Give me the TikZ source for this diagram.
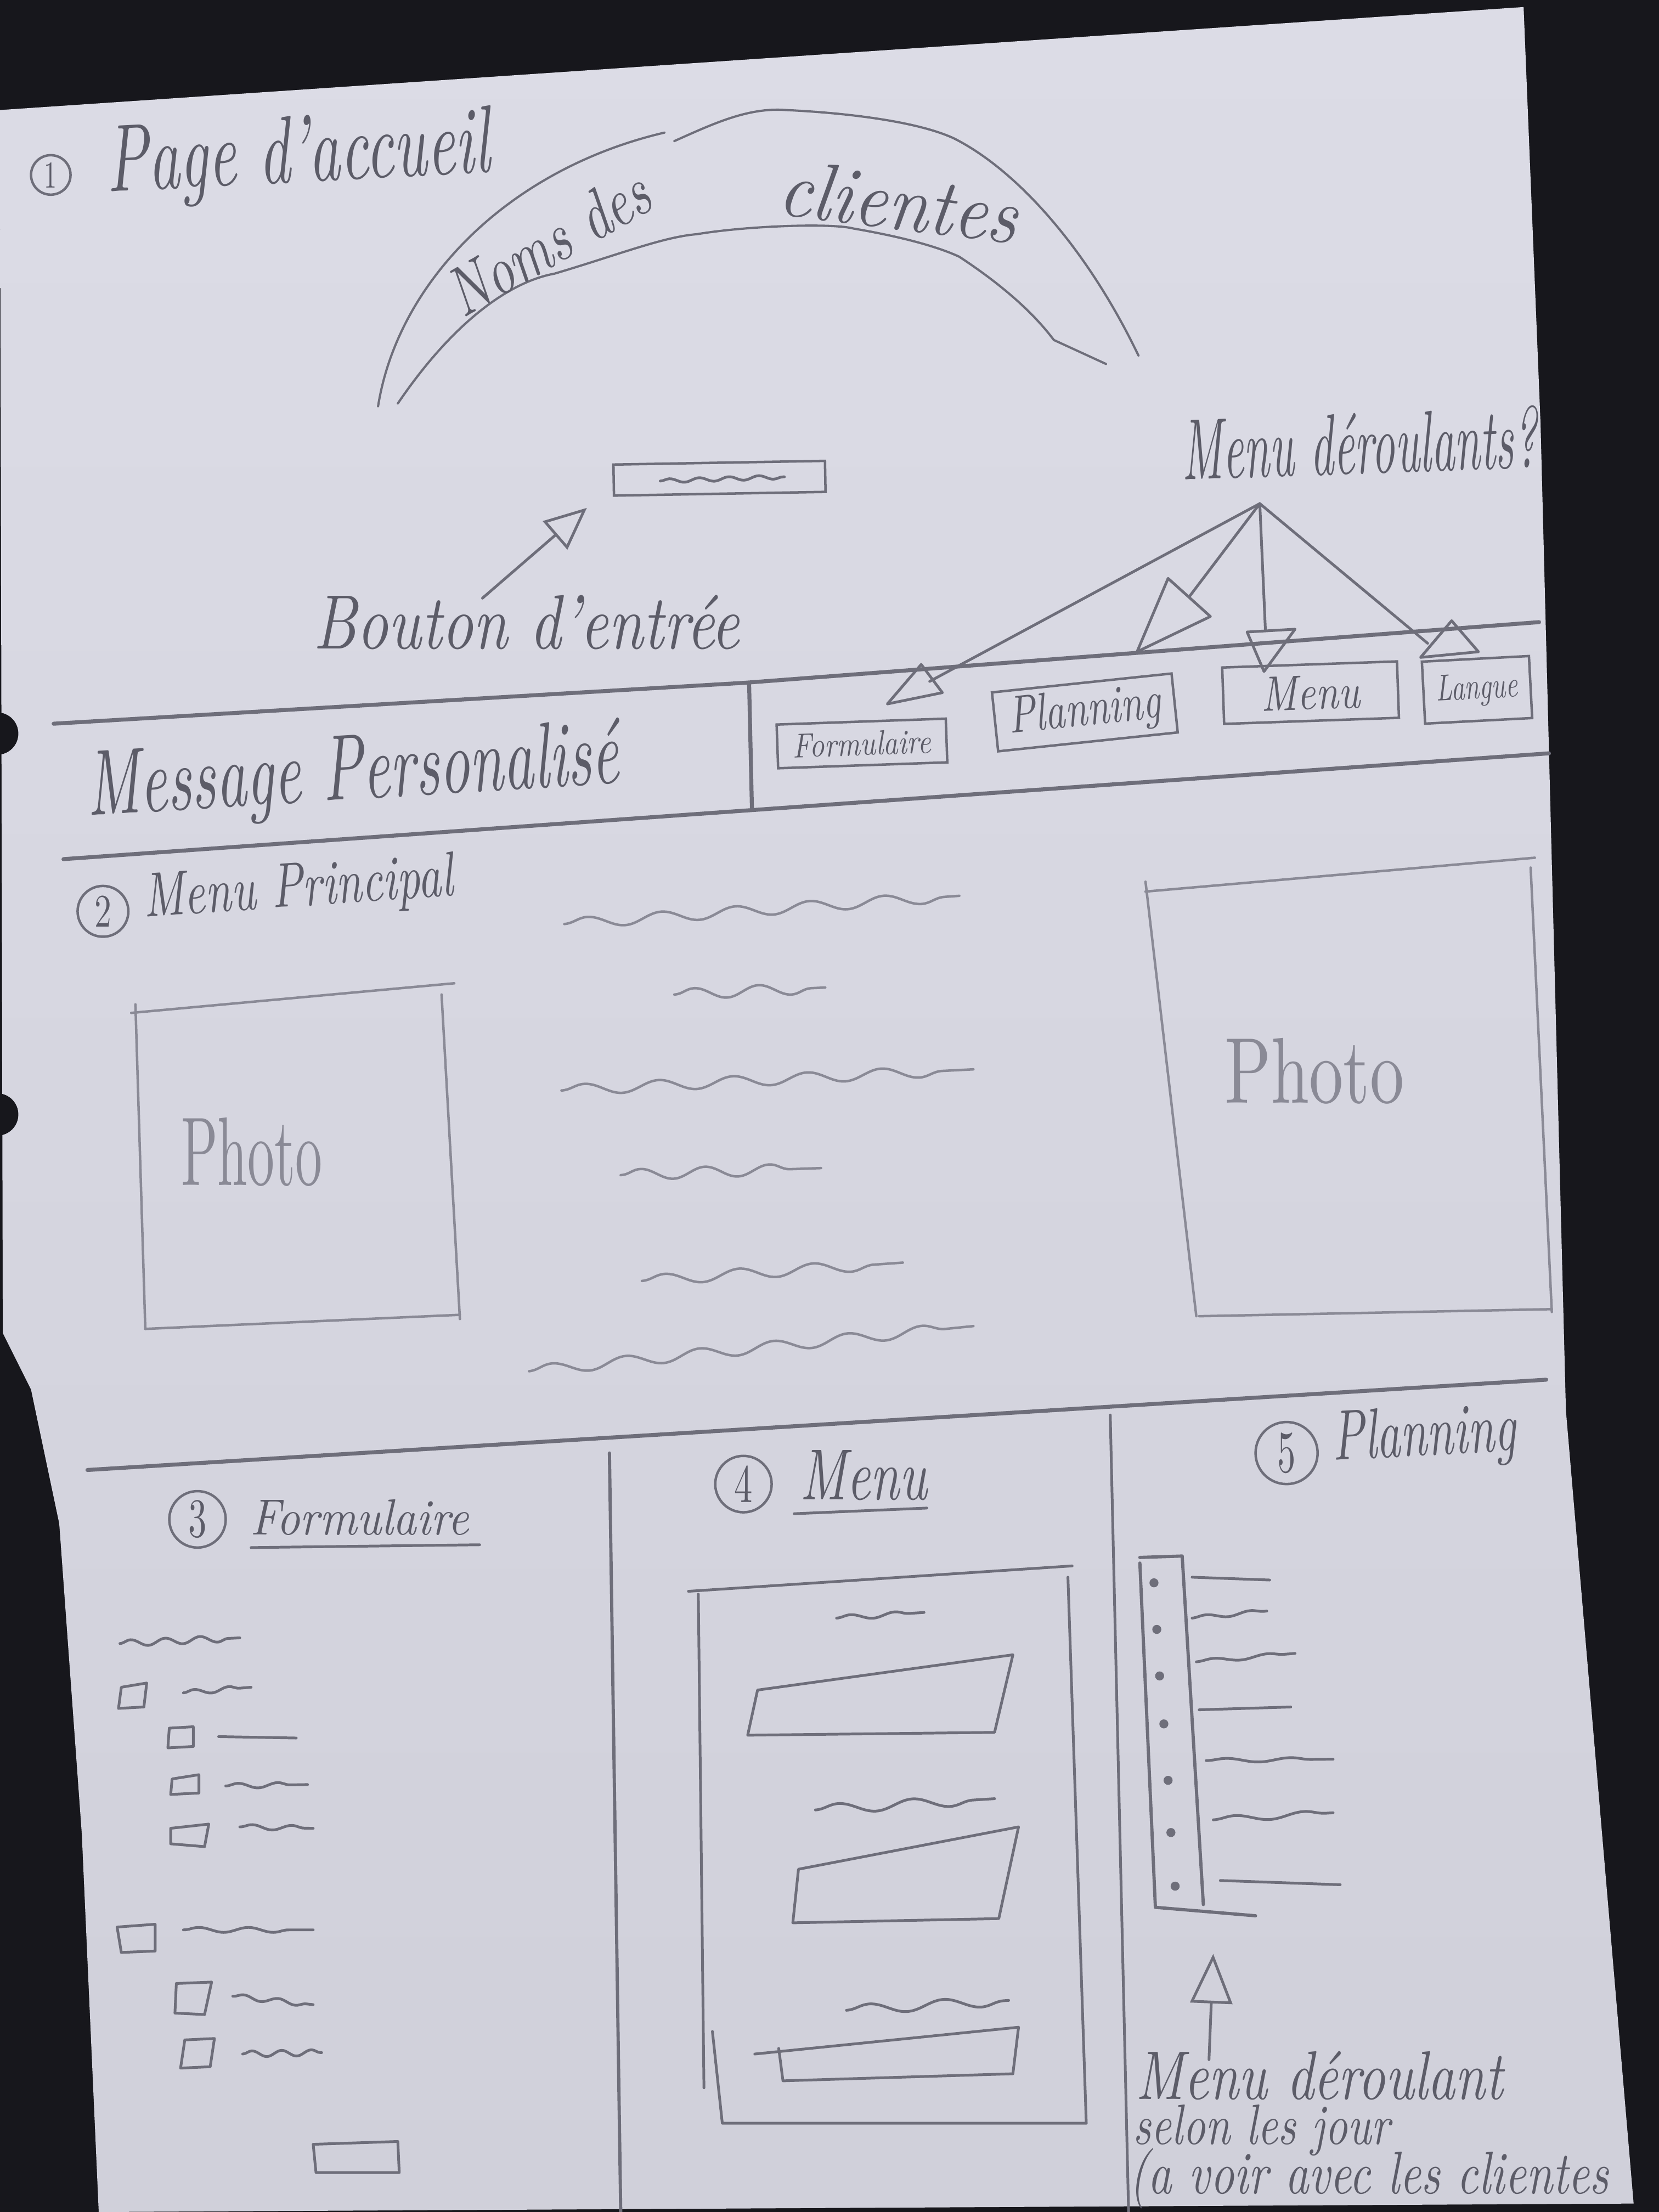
\documentclass[tikz,border=0pt]{standalone}
\usetikzlibrary{arrows.meta,decorations.pathmorphing}
\definecolor{desk}{HTML}{17171C}
\definecolor{paper}{HTML}{D0D0DA}
\definecolor{papertop}{HTML}{DCDCE6}
\definecolor{pen}{HTML}{6E6E7A}
\definecolor{ink}{HTML}{5C5C68}
\definecolor{faint}{HTML}{8A8A96}
\newlength\pxu
\setlength\pxu{0.02cm}
% handwritten label squeezed to a given width and height (in sketch pixels)
\newcommand\hw[3]{\resizebox{#1\pxu}{#2\pxu}{#3}}

\begin{document}
\begin{tikzpicture}[x=0.02cm,y=-0.02cm,
  pencil/.style={draw=pen,line width=1.1pt,line cap=round,line join=round},
  light/.style={draw=faint,line width=1pt,line cap=round,line join=round},
  rule/.style={draw=pen,line width=1.6pt,line cap=round,line join=round},
  wavy/.style={pencil,decorate,decoration={snake,amplitude=1.5pt,segment length=15pt}},
  lwavy/.style={light,decorate,decoration={snake,amplitude=2.2pt,segment length=30pt}},
  hand/.style={inner sep=0pt,text=ink,font=\itshape,anchor=base west},
  navbox/.style={draw=pen,line width=1pt,inner sep=0pt,text=ink,font=\itshape},
  numring/.style={draw=pen,circle,line width=1pt,inner sep=0pt,text=ink},
  tip/.style={-{Triangle[open,length=17pt,width=15pt]}},
]
\useasboundingbox (0,0) rectangle (1176,1568);
\fill[desk] (0,0) rectangle (1176,1568);

% sheet of paper
\shade[top color=papertop,bottom color=paper]
  (0,78) -- (1080,5) -- (1092,300) -- (1110,1000) -- (1158,1562)
  -- (70,1568) -- (58,1300) -- (42,1080) -- (22,985) -- (2,945) -- cycle;
% punched holes
\fill[desk] (-2,520) circle (15);
\fill[desk] (-2,790) circle (15);

% ---------- 1. home page ----------
\node[numring,minimum size=0.56cm] (n1) at (36,124) {\hw{9}{18}{1}};
\node[hand,rotate=3] (home) at (76,136) {\hw{272}{47}{Page d'accueil}};

% arch with client names
\draw[pencil,line width=0.9pt] (268,288) .. controls (282,200) and (360,120) .. (471,94);
\draw[pencil,line width=0.9pt] (478,100) .. controls (505,88) and (530,76) .. (557,78)
  .. controls (600,80) and (650,86) .. (676,98)
  .. controls (720,120) and (770,175) .. (807,252);
\draw[pencil,line width=0.9pt] (282,286) .. controls (320,230) and (360,200) .. (393,194)
  .. controls (440,180) and (470,168) .. (494,166)
  .. controls (530,160) and (590,158) .. (605,162)
  .. controls (640,168) and (665,175) .. (680,182)
  .. controls (715,205) and (735,225) .. (747,241) -- (784,258);
\node[hand,rotate=30] (noms) at (328,226) {\hw{158}{34}{Noms des}};
\node[hand,rotate=-7] (clients) at (550,152) {\hw{170}{40}{clientes}};

% entry button
\node[navbox,minimum width=3cm,minimum height=0.44cm,rotate=1] (entry) at (510,339) {};
\draw[wavy,decoration={amplitude=0.8pt,segment length=12pt}] (468,341) -- (556,338);
\node[hand] (bouton) at (222,460) {\hw{302}{38}{Bouton d'entrée}};
\coordinate (btail) at (342,424);
\coordinate (bhead) at (416,360);
\draw[pencil,tip] (btail) -- (bhead);

% drop-down menus
\node[hand,rotate=2] (dropq) at (838,340) {\hw{252}{44}{Menu déroulants?}};
\coordinate (apex) at (893,357);

\node[navbox,minimum width=2.4cm,minimum height=0.62cm,rotate=2] (navF) at (611,527) {\hw{98}{17}{Formulaire}};
\node[navbox,minimum width=2.56cm,minimum height=0.84cm,rotate=6] (navP) at (769,505) {\hw{108}{26}{Planning}};
\node[navbox,minimum width=2.48cm,minimum height=0.8cm,rotate=2] (navM) at (929,491) {\hw{70}{24}{Menu}};
\node[navbox,minimum width=1.52cm,minimum height=0.88cm,rotate=3] (navL) at (1047,489) {\hw{58}{18}{Langue}};

\coordinate (tF) at (659,483);
\coordinate (tP) at (843,423);
\coordinate (tM) at (897,447);
\coordinate (tL) at (1012,456);
\draw[pencil] (apex) -- (tF);
\draw[pencil] (apex) -- (tP);
\draw[pencil] (apex) -- (tM);
\draw[pencil] (apex) -- (tL);
\draw[pencil] (653,471) -- (629,499) -- (668,491) -- cycle;
\draw[pencil] (828,410) -- (858,437) -- (806,462) -- cycle;
\draw[pencil] (884,448) -- (918,446) -- (896,476) -- cycle;
\draw[pencil] (1029,440) -- (1007,466) -- (1048,462) -- cycle;

% header band rules
\draw[rule] (38,513) -- (528,484) -- (1091,441);
\draw[rule] (531,484) -- (533,573);
\draw[rule] (45,609) -- (1098,534);
\node[hand,rotate=3.5] (msg) at (62,578) {\hw{378}{46}{Message Personalisé}};

% ---------- 2. main menu ----------
\node[numring,minimum size=0.72cm] (n2) at (73,646) {\hw{12}{22}{2}};
\node[hand,rotate=4] (mainmenu) at (102,650) {\hw{220}{31}{Menu Principal}};

\draw[light] (93,718) -- (322,697);
\draw[light] (313,705) -- (326,935);
\draw[light] (103,942) -- (326,932);
\draw[light] (96,712) -- (103,942);
\node[inner sep=0pt,anchor=base west,text=faint] (photoA) at (128,840) {\hw{100}{48}{Photo}};

\draw[light] (812,632) -- (1088,608);
\draw[light] (1085,615) -- (1100,930);
\draw[light] (850,933) -- (1100,928);
\draw[light] (812,625) -- (848,933);
\node[inner sep=0pt,anchor=base west,text=faint] (photoB) at (868,782) {\hw{127}{46}{Photo}};

\draw[lwavy] (400,655) -- (680,635);
\draw[lwavy,decoration={segment length=26pt}] (478,705) -- (585,700);
\draw[lwavy] (398,773) -- (690,758);
\draw[lwavy,decoration={segment length=26pt}] (440,833) -- (582,828);
\draw[lwavy] (455,908) -- (640,895);
\draw[lwavy] (375,972) -- (690,940);

\draw[rule] (62,1042) -- (1096,978);
\draw[rule,line width=1.3pt] (432,1030) -- (440,1568);
\draw[rule,line width=1.1pt] (787,1003) -- (800,1568);

% ---------- 3. form ----------
\node[numring,minimum size=0.8cm] (n3) at (140,1077) {\hw{13}{26}{3}};
\node[hand] (formt) at (177,1088) {\hw{155}{25}{Formulaire}};
\draw[pencil] (178,1097) -- (340,1095);

\draw[wavy,decoration={amplitude=1.3pt,segment length=14pt}] (85,1165) -- (170,1161);
\draw[pencil] (86,1196) -- (104,1193) -- (102,1210) -- (84,1211) -- cycle;
\draw[wavy,decoration={amplitude=1pt,segment length=14pt}] (130,1200) -- (178,1196);
\draw[pencil] (120,1225) -- (137,1224) -- (137,1238) -- (119,1239) -- cycle;
\draw[pencil] (155,1231) -- (210,1232);
\draw[pencil] (122,1261) -- (141,1258) -- (141,1271) -- (121,1272) -- cycle;
\draw[wavy,decoration={amplitude=1pt,segment length=16pt}] (160,1266) -- (218,1265);
\draw[pencil] (121,1296) -- (148,1293) -- (145,1309) -- (121,1307) -- cycle;
\draw[wavy,decoration={amplitude=1pt,segment length=16pt}] (170,1295) -- (222,1296);
\draw[pencil] (83,1366) -- (110,1364) -- (110,1383) -- (86,1384) -- cycle;
\draw[wavy,decoration={amplitude=1pt,segment length=20pt}] (130,1368) -- (222,1368);
\draw[pencil] (125,1406) -- (150,1405) -- (145,1428) -- (124,1427) -- cycle;
\draw[wavy,decoration={amplitude=1pt,segment length=14pt}] (165,1415) -- (222,1421);
\draw[pencil] (131,1446) -- (152,1445) -- (149,1465) -- (128,1466) -- cycle;
\draw[wavy,decoration={amplitude=1.2pt,segment length=12pt}] (172,1456) -- (228,1455);
\draw[pencil] (222,1520) -- (282,1518) -- (283,1540) -- (224,1540) -- cycle;

% ---------- 4. menu ----------
\node[numring,minimum size=0.8cm] (n4) at (527,1052) {\hw{13}{26}{4}};
\node[hand] (menut) at (567,1063) {\hw{90}{35}{Menu}};
\draw[pencil] (563,1073) -- (657,1069);

\draw[pencil] (488,1128) -- (760,1110);
\draw[pencil] (495,1130) -- (499,1480);
\draw[pencil] (757,1118) -- (770,1505);
\draw[pencil] (505,1440) -- (512,1505) -- (770,1505);
\draw[wavy,decoration={amplitude=1pt,segment length=18pt}] (593,1147) -- (655,1143);
\draw[pencil] (537,1198) -- (718,1173) -- (705,1228) -- (530,1230) -- cycle;
\draw[wavy,decoration={amplitude=2pt,segment length=30pt}] (578,1283) -- (705,1275);
\draw[pencil] (566,1325) -- (722,1295) -- (708,1360) -- (562,1363) -- cycle;
\draw[wavy,decoration={amplitude=2pt,segment length=30pt}] (600,1425) -- (715,1418);
\draw[pencil] (535,1456) -- (722,1437) -- (718,1470) -- (555,1475) -- (552,1452);

% ---------- 5. planning ----------
\node[numring,minimum size=0.88cm] (n5) at (912,1030) {\hw{13}{28}{5}};
\node[hand,rotate=3] (plant) at (945,1035) {\hw{130}{35}{Planning}};

\draw[pencil,line width=1.3pt] (808,1104) -- (838,1103) -- (853,1350);
\draw[pencil,line width=1.3pt] (808,1108) -- (819,1352) -- (890,1358);
\foreach \px/\py in {818/1122,820/1155,822/1188,825/1222,828/1262,830/1299,833/1337}
  \fill[pen] (\px,\py) circle (3.2);
\draw[pencil] (845,1118) -- (900,1120);
\draw[wavy,decoration={amplitude=0.8pt,segment length=18pt}] (845,1147) -- (898,1142);
\draw[wavy,decoration={amplitude=0.8pt,segment length=22pt}] (848,1178) -- (918,1172);
\draw[pencil] (850,1212) -- (915,1210);
\draw[wavy,decoration={amplitude=0.8pt,segment length=26pt}] (855,1248) -- (945,1247);
\draw[wavy,decoration={amplitude=1.2pt,segment length=28pt}] (860,1290) -- (945,1285);
\draw[pencil] (865,1333) -- (950,1336);

\node[hand] (dropA) at (805,1488) {\hw{260}{34}{Menu déroulant}};
\node[hand] (dropB) at (803,1520) {\hw{182}{28}{selon les jour}};
\node[hand] (dropC) at (800,1555) {\hw{340}{32}{(a voir avec les clientes}};
\coordinate (dtail) at (857,1460);
\coordinate (dhead) at (860,1385);
\draw[pencil,-{Triangle[open,length=20pt,width=17pt]}] (dtail) -- (dhead);
\end{tikzpicture}
\end{document}
